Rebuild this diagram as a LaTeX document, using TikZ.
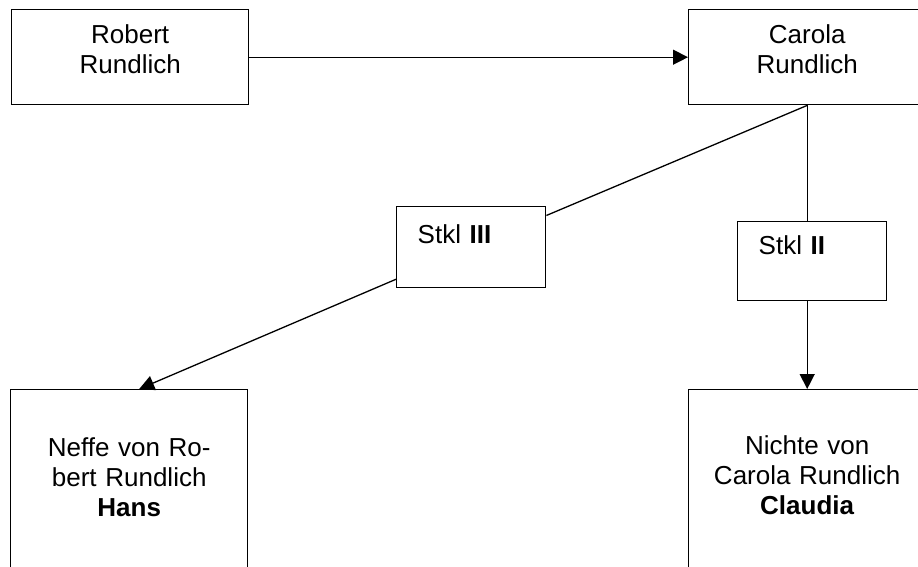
\documentclass[tikz,border=0pt]{standalone}
\usepackage{fontspec}
\setmainfont{Liberation Sans}
\usetikzlibrary{arrows.meta, positioning}

\begin{document}
\begin{tikzpicture}[
    x=1pt, y=-1pt,
    font=\fontsize{26}{30}\selectfont,
    person/.style={rectangle, draw, line width=1.4pt, inner xsep=0pt, inner ysep=0pt, text width=237pt, align=center, anchor=north west},
    klasse/.style={rectangle, draw, line width=1.4pt, fill=white, inner xsep=21pt, inner ysep=0pt, text width=107pt, align=left, anchor=north west},
    arrow/.style={-{Triangle[length=15pt, width=15pt]}, line width=1.3pt},
    line/.style={line width=1.3pt}
]
    \useasboundingbox (0, 0) rectangle (918, 566);
    \clip (0, 0) rectangle (918, 566);

    % Eltern
    \node[person, text height=34pt, text depth=61pt] (robert) at (11, 9) {Robert\\Rundlich};
    \node[person, text height=34pt, text depth=61pt] (carola) at (688, 9) {Carola\\Rundlich};

    % Steuerklassen
    \node[klasse, text height=37pt, text depth=44pt] (stklIII) at (396, 206) {Stkl \textbf{III}};
    \node[klasse, text height=33pt, text depth=46pt] (stklII) at (737, 221) {Stkl \textbf{II}};

    % Erben
    \node[person, text height=67pt, text depth=140pt] (hans) at (10, 389) {Neffe von Ro-\\bert Rundlich\\\textbf{Hans}};
    \node[person, text height=65pt, text depth=140pt] (claudia) at (688, 389) {Nichte von\\Carola Rundlich\\\textbf{Claudia}};

    % Pfeile
    \draw[arrow] (robert) -- (carola);

    \draw[line] (carola.south) -- (stklIII);
    \draw[arrow] (stklIII) -- ([xshift=10pt]hans.north);

    \draw[line] (carola.south) -- (carola.south |- stklII.north);
    \draw[arrow] (stklII.south -| claudia.north) -- (claudia.north);

\end{tikzpicture}
\end{document}
